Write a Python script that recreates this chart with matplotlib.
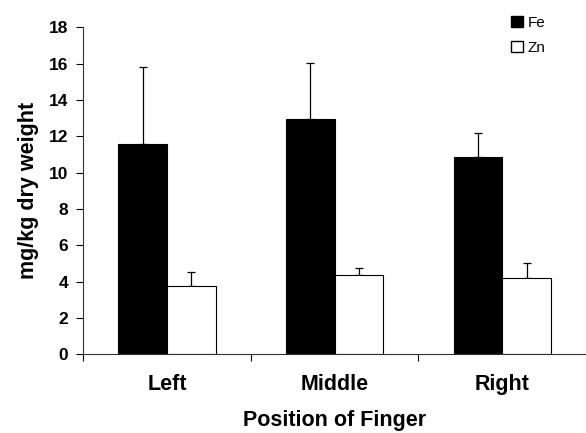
import matplotlib
matplotlib.use("Agg")
import matplotlib.pyplot as plt
from matplotlib.patches import Patch
import numpy as np

categories = ["Left", "Middle", "Right"]
fe_mean = [11.57, 12.93, 10.86]
fe_err = [4.26, 3.09, 1.34]
zn_mean = [3.76, 4.35, 4.18]
zn_err = [0.77, 0.38, 0.83]
yticks = [0, 2, 4, 6, 8, 10, 12, 14, 16, 18]

plt.rcParams["font.family"] = ["Liberation Sans", "DejaVu Sans"]

fig = plt.figure(figsize=(5.86, 4.33), dpi=100)
ax = fig.add_axes([0.142, 0.182, 0.858, 0.755])

x = np.arange(len(categories)) + 0.5
w = 0.29

ax.bar(x - w / 2, fe_mean, w, color="black", edgecolor="black", linewidth=0.8, zorder=2)
ax.bar(x + w / 2, zn_mean, w, color="white", edgecolor="black", linewidth=0.8, zorder=2)

ekw = dict(fmt="none", ecolor="black", elinewidth=0.9, capsize=2.6, capthick=0.9, zorder=1)
ax.errorbar(x - w / 2, fe_mean, yerr=[np.zeros(3), fe_err], **ekw)
ax.errorbar(x + w / 2, zn_mean, yerr=[np.zeros(3), zn_err], **ekw)

ax.set_xlim(0, 3)
ax.set_ylim(0, 18)
ax.set_yticks(yticks)
ax.set_yticklabels([str(t) for t in yticks], fontsize=12.5, fontweight="bold")

ax.set_xticks(x)
ax.set_xticklabels(categories, fontsize=15.5, fontweight="bold")
ax.tick_params(axis="x", which="major", length=0, pad=14)
ax.set_xticks([0, 1, 2], minor=True)
ax.tick_params(axis="x", which="minor", length=5, width=0.8, direction="out")
ax.tick_params(axis="y", length=5, width=0.8, direction="out", pad=6)

for s in ["top", "right"]:
    ax.spines[s].set_visible(False)
for s in ["left", "bottom"]:
    ax.spines[s].set_linewidth(0.8)
    ax.spines[s].set_color("#333333")

ax.set_ylabel("mg/kg dry weight", fontsize=15.5, fontweight="bold", labelpad=7)
ax.set_xlabel("Position of Finger", fontsize=15.5, fontweight="bold", labelpad=11)

handles = [Patch(facecolor="black", edgecolor="black", label="Fe"),
           Patch(facecolor="white", edgecolor="black", label="Zn")]
fig.legend(handles=handles, loc="upper left", bbox_to_anchor=(0.862, 0.978),
           frameon=False, fontsize=11, handlelength=0.75, handleheight=0.75,
           handletextpad=0.3, labelspacing=0.75, borderaxespad=0)

fig.savefig("out.png", dpi=100)
